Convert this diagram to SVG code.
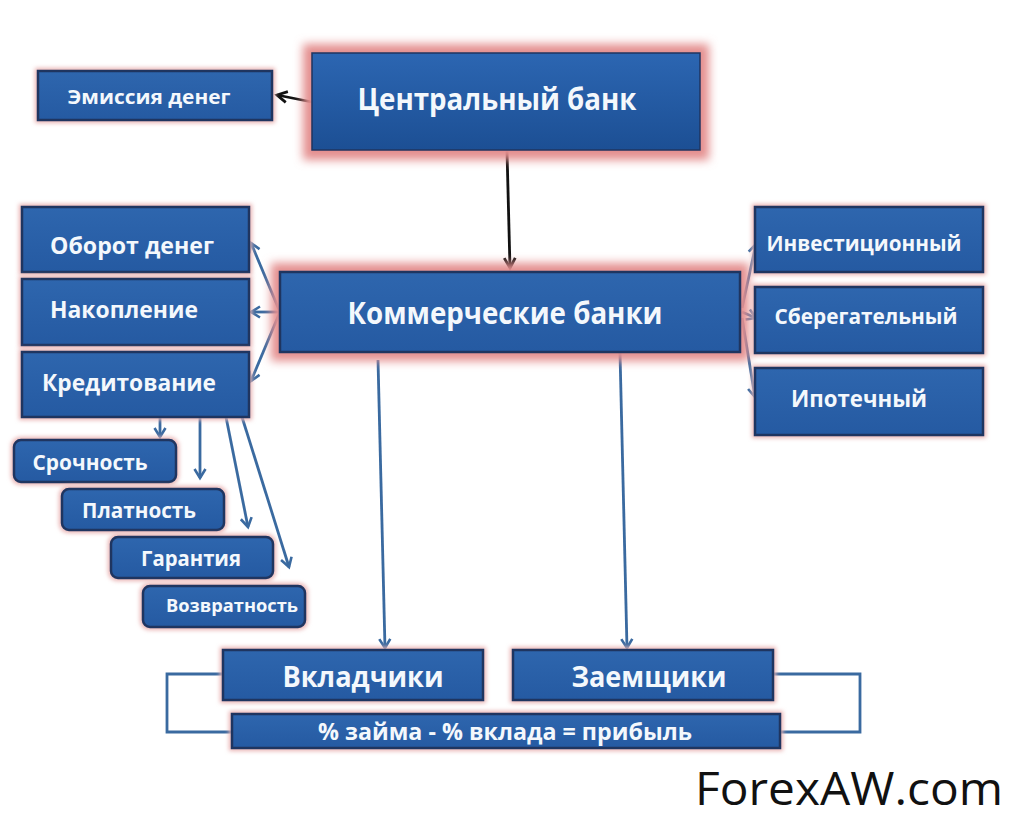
<svg xmlns="http://www.w3.org/2000/svg" width="1015" height="828" viewBox="0 0 1015 828">
<defs>
<linearGradient id="g" x1="0" y1="0" x2="0" y2="1"><stop offset="0" stop-color="#2e66ae"/><stop offset="1" stop-color="#255aa2"/></linearGradient>
<linearGradient id="gc" x1="0" y1="0" x2="0" y2="1"><stop offset="0" stop-color="#2c66b2"/><stop offset="1" stop-color="#1c4f94"/></linearGradient>
<filter id="glow" x="-20%" y="-40%" width="140%" height="180%"><feGaussianBlur stdDeviation="5"/></filter>
<filter id="glow2" x="-20%" y="-40%" width="140%" height="180%"><feGaussianBlur stdDeviation="2"/></filter>
<marker id="ab" markerWidth="14" markerHeight="14" refX="10" refY="7" orient="auto" markerUnits="userSpaceOnUse"><path d="M1,1.5 L10,7 L1,12.5" fill="none" stroke="#3a6aa0" stroke-width="2.6"/></marker>
<marker id="ak" markerWidth="14" markerHeight="14" refX="11" refY="7" orient="auto" markerUnits="userSpaceOnUse"><path d="M1,1.5 L11,7 L1,12.5" fill="none" stroke="#111" stroke-width="2.8"/></marker>
</defs>
<style>
.box{fill:url(#g);stroke:#1f3560;stroke-width:2.5}
.halo{fill:#e48e8e;filter:url(#glow)}
.halo2{fill:#e9b2b2;filter:url(#glow2)}
.t{fill:#f4f8fc;font-family:"Open Sans","Liberation Sans",sans-serif;font-weight:bold;text-anchor:middle}
.c{fill:none;stroke:#3a6aa0;stroke-width:2.8}
.k{fill:none;stroke:#111;stroke-width:2.8}
</style>
<rect width="1015" height="828" fill="#ffffff"/>

<g id="connectors">
<line class="k" x1="312" y1="102" x2="277" y2="95" marker-end="url(#ak)"/>
<line class="k" x1="507" y1="151" x2="510" y2="268" marker-end="url(#ak)"/>
<line class="c" x1="280" y1="312" x2="251" y2="243" marker-end="url(#ab)"/>
<line class="c" x1="280" y1="312" x2="251" y2="312" marker-end="url(#ab)"/>
<line class="c" x1="280" y1="312" x2="251" y2="381" marker-end="url(#ab)"/>
<line class="c" x1="742" y1="308" x2="756" y2="244" marker-end="url(#ab)"/>
<line class="c" x1="742" y1="312" x2="756" y2="318" marker-end="url(#ab)"/>
<line class="c" x1="742" y1="318" x2="755" y2="397" marker-end="url(#ab)"/>
<line class="c" x1="160" y1="417" x2="160" y2="437" marker-end="url(#ab)"/>
<line class="c" x1="200" y1="417" x2="200" y2="478" marker-end="url(#ab)"/>
<line class="c" x1="226" y1="417" x2="248" y2="527" marker-end="url(#ab)"/>
<line class="c" x1="242" y1="417" x2="289" y2="567" marker-end="url(#ab)"/>
<line class="c" x1="378" y1="360" x2="385" y2="648" marker-end="url(#ab)"/>
<line class="c" x1="620" y1="353" x2="627" y2="648" marker-end="url(#ab)"/>
<polyline class="c" points="223,674 167,674 167,732 232,732"/>
<polyline class="c" points="773,674 860,674 860,732 780,732"/>
</g>

<g id="emission">
<rect class="halo2" x="35" y="68" width="240" height="55"/>
<rect class="box" x="38" y="71" width="234" height="49"/>
<text class="t" x="149" y="104" font-size="19" textLength="163" lengthAdjust="spacingAndGlyphs">Эмиссия денег</text>
</g>

<g id="central-bank">
<rect class="halo" x="303" y="44" width="406" height="116"/>
<rect x="312" y="53" width="388" height="97" fill="url(#gc)" stroke="#1f3560" stroke-width="1.5"/>
<text class="t" x="497" y="110" font-size="30" textLength="279" lengthAdjust="spacingAndGlyphs">Центральный банк</text>
</g>

<g id="commercial-banks">
<rect class="halo" x="271" y="263" width="478" height="98"/>
<rect class="box" x="280" y="272" width="460" height="80"/>
<text class="t" x="505" y="324" font-size="30" textLength="315" lengthAdjust="spacingAndGlyphs">Коммерческие банки</text>
</g>

<g id="oborot">
<rect class="halo2" x="19" y="204" width="233" height="71"/>
<rect class="box" x="22" y="207" width="227" height="65"/>
<text class="t" x="132" y="254" font-size="23" textLength="164" lengthAdjust="spacingAndGlyphs">Оборот денег</text>
</g>
<g id="nakoplenie">
<rect class="halo2" x="19" y="276" width="233" height="72"/>
<rect class="box" x="22" y="279" width="227" height="66"/>
<text class="t" x="124" y="318" font-size="23" textLength="148" lengthAdjust="spacingAndGlyphs">Накопление</text>
</g>
<g id="kreditovanie">
<rect class="halo2" x="19" y="349" width="233" height="71"/>
<rect class="box" x="22" y="352" width="227" height="65"/>
<text class="t" x="129" y="391" font-size="23" textLength="174" lengthAdjust="spacingAndGlyphs">Кредитование</text>
</g>

<g id="investicionnyi">
<rect class="halo2" x="752" y="204" width="234" height="71"/>
<rect class="box" x="755" y="207" width="228" height="65"/>
<text class="t" x="864" y="251" font-size="22" textLength="195" lengthAdjust="spacingAndGlyphs">Инвестиционный</text>
</g>
<g id="sberegatelnyi">
<rect class="halo2" x="752" y="284" width="234" height="72"/>
<rect class="box" x="755" y="287" width="228" height="66"/>
<text class="t" x="866" y="324" font-size="22" textLength="183" lengthAdjust="spacingAndGlyphs">Сберегательный</text>
</g>
<g id="ipotechnyi">
<rect class="halo2" x="752" y="365" width="234" height="73"/>
<rect class="box" x="755" y="368" width="228" height="67"/>
<text class="t" x="859" y="407" font-size="23" textLength="136" lengthAdjust="spacingAndGlyphs">Ипотечный</text>
</g>

<g id="srochnost">
<rect class="halo2" x="11" y="437" width="168" height="48" rx="9"/>
<rect class="box" x="14" y="440" width="162" height="42" rx="7"/>
<text class="t" x="90" y="470" font-size="21" textLength="115" lengthAdjust="spacingAndGlyphs">Срочность</text>
</g>
<g id="platnost">
<rect class="halo2" x="59" y="486" width="168" height="47" rx="9"/>
<rect class="box" x="62" y="489" width="162" height="41" rx="7"/>
<text class="t" x="139" y="518" font-size="21" textLength="114" lengthAdjust="spacingAndGlyphs">Платность</text>
</g>
<g id="garantiya">
<rect class="halo2" x="108" y="534" width="168" height="47" rx="9"/>
<rect class="box" x="111" y="537" width="162" height="41" rx="7"/>
<text class="t" x="191" y="566" font-size="21" textLength="100" lengthAdjust="spacingAndGlyphs">Гарантия</text>
</g>
<g id="vozvratnost">
<rect class="halo2" x="140" y="583" width="168" height="47" rx="9"/>
<rect class="box" x="143" y="586" width="162" height="41" rx="7"/>
<text class="t" x="232" y="612" font-size="18" textLength="132" lengthAdjust="spacingAndGlyphs">Возвратность</text>
</g>

<g id="vkladchiki">
<rect class="halo2" x="220" y="647" width="266" height="56"/>
<rect class="box" x="223" y="650" width="260" height="50"/>
<text class="t" x="363" y="687" font-size="28" textLength="161" lengthAdjust="spacingAndGlyphs">Вкладчики</text>
</g>
<g id="zaemshchiki">
<rect class="halo2" x="510" y="647" width="266" height="56"/>
<rect class="box" x="513" y="650" width="260" height="50"/>
<text class="t" x="649" y="687" font-size="28" textLength="155" lengthAdjust="spacingAndGlyphs">Заемщики</text>
</g>
<g id="profit">
<rect class="halo2" x="229" y="711" width="554" height="40"/>
<rect class="box" x="232" y="714" width="548" height="34"/>
<text class="t" x="505" y="740" font-size="24" textLength="374" lengthAdjust="spacingAndGlyphs">% займа - % вклада = прибыль</text>
</g>

<g id="watermark">
<text x="849" y="805" font-family="'Open Sans','Liberation Sans',sans-serif" font-size="46" fill="#111" text-anchor="middle" textLength="308" lengthAdjust="spacingAndGlyphs">ForexAW.com</text>
</g>
</svg>
